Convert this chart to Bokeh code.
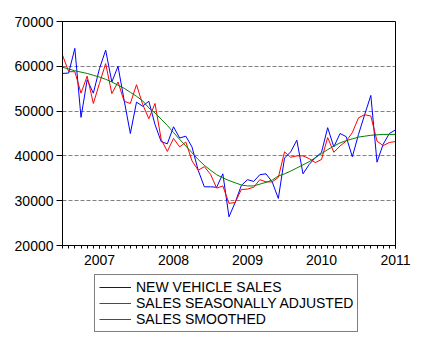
from bokeh.plotting import figure
from bokeh.layouts import column
from bokeh.models import Legend, LegendItem, FixedTicker, ColumnDataSource, Range1d
from bokeh.embed import file_html
from bokeh.resources import INLINE
import pandas as pd

# Monthly observations, 2006M07 .. 2011M01
months = [str(p) for p in pd.period_range("2006-07", "2011-01", freq="M")]

new_vehicle_sales = [
    58400, 58500, 64000, 48600, 57000, 54000, 59500, 63600, 56500, 60000,
    52400, 45000, 52000, 51100, 52200, 47000, 43200, 42700, 46500, 44000,
    44400, 42000, 36800, 33100, 33100, 33000, 36000, 26400, 29600, 33400,
    34700, 34300, 35800, 36000, 34200, 30500, 39500, 40900, 43500, 36000,
    38100, 39600, 40800, 46300, 42000, 45000, 44300, 39800, 44800, 49200,
    53500, 38600, 42600, 45000, 45800]

sales_seasonally_adjusted = [
    62500, 58800, 58800, 54000, 57800, 51700, 56200, 60600, 53900, 56500,
    52200, 51700, 55900, 51500, 48300, 51700, 43700, 41000, 43900, 42000,
    43100, 38900, 36800, 37600, 35900, 32800, 33300, 29400, 29600, 32500,
    32600, 33000, 34700, 34200, 34200, 35200, 40900, 39700, 40000, 40000,
    39400, 38500, 39200, 44100, 40800, 42200, 43300, 45200, 48500, 49200,
    48900, 43300, 42300, 43000, 43200]

sales_smoothed = [
    59800, 59400, 59000, 58700, 58400, 58000, 57600, 57100, 56500, 55800,
    55100, 54200, 53300, 52300, 50700, 49600, 48200, 46800, 45200, 43700,
    42200, 40700, 39200, 37900, 36800, 35800, 35100, 34500, 34000, 33500,
    33300, 33300, 33700, 34100, 34600, 35500, 36000, 36600, 37300, 38000,
    38700, 39600, 40500, 41400, 42200, 42900, 43400, 43800, 44200, 44400,
    44600, 44700, 44800, 44800, 44800]

series_names = ["NEW VEHICLE SALES", "SALES SEASONALLY ADJUSTED", "SALES SMOOTHED"]
series_colors = ["#0000FF", "#FF0000", "#008000"]
y_ticks = [20000, 30000, 40000, 50000, 60000, 70000]

obs = list(range(len(months)))
year_pos = [i for i, m in enumerate(months) if m.endswith("-01")]
year_labels = {i: months[i][:4] for i in year_pos}

src = ColumnDataSource(dict(x=obs, a=new_vehicle_sales,
                            b=sales_seasonally_adjusted, c=sales_smoothed))
cols = ["a", "b", "c"]

FONT = "Liberation Sans"

p = figure(width=426, height=272, output_backend="svg", toolbar_location=None,
           x_range=Range1d(0, len(months) - 1), y_range=Range1d(20000, 70000),
           min_border_left=62, min_border_right=31, min_border_top=21,
           min_border_bottom=27)
p.background_fill_color = "white"
p.border_fill_color = "white"
p.outline_line_color = "black"
p.outline_line_width = 1
p.outline_line_alpha = 1

for col, c in zip(cols, series_colors):
    p.line("x", col, source=src, line_color=c, line_width=1)

# axes
p.xaxis.ticker = FixedTicker(ticks=year_pos, minor_ticks=obs)
p.xaxis.major_label_overrides = year_labels
p.xaxis.major_tick_out = 3
p.xaxis.major_tick_in = 0
p.xaxis.minor_tick_out = 3
p.xaxis.minor_tick_in = 0
p.xaxis.major_label_standoff = 6
p.yaxis.ticker = FixedTicker(ticks=y_ticks, minor_ticks=[])
p.yaxis.major_tick_out = 6
p.yaxis.major_tick_in = 0
p.yaxis.major_label_standoff = 3
for ax in (p.xaxis[0], p.yaxis[0]):
    ax.axis_line_color = "black"
    ax.major_tick_line_color = "black"
    ax.minor_tick_line_color = "black"
    ax.major_label_text_font = FONT
    ax.major_label_text_font_size = "14px"
    ax.major_label_text_color = "black"

p.xgrid.visible = False
p.ygrid.ticker = FixedTicker(ticks=y_ticks[1:-1])
p.ygrid.grid_line_color = "#808080"
p.ygrid.grid_line_dash = "4 2"
p.ygrid.grid_line_width = 1

# legend strip below the chart (its frame is aligned with the chart frame);
# the same series are drawn here outside the visible range, only as legend keys
q = figure(width=426, height=70, output_backend="svg", toolbar_location=None,
           x_axis_type=None, y_axis_type=None,
           x_range=Range1d(-10, -9), y_range=Range1d(0, 1),
           min_border_left=62, min_border_right=31, min_border_top=0,
           min_border_bottom=0)
q.outline_line_color = None
q.grid.visible = False
q.background_fill_color = "white"
q.border_fill_color = "white"
keys = [q.line("x", col, source=src, line_color=c, line_width=1)
        for col, c in zip(cols, series_colors)]

legend = Legend(items=[LegendItem(label=n, renderers=[k]) for n, k in zip(series_names, keys)],
                location=(32, 10), orientation="vertical")
legend.label_text_font = FONT
legend.label_text_font_size = "14px"
legend.label_text_line_height = 1.0
legend.label_text_color = "black"
legend.glyph_width = 32
legend.glyph_height = 14
legend.label_height = 14
legend.label_standoff = 5
legend.spacing = -1
legend.padding = 4
legend.margin = 0
legend.border_line_color = "black"
legend.border_line_width = 1
legend.background_fill_color = "white"
legend.background_fill_alpha = 1
q.add_layout(legend, "center")

layout = column(p, q, spacing=0)
open("out.html", "w").write(file_html(layout, INLINE))
